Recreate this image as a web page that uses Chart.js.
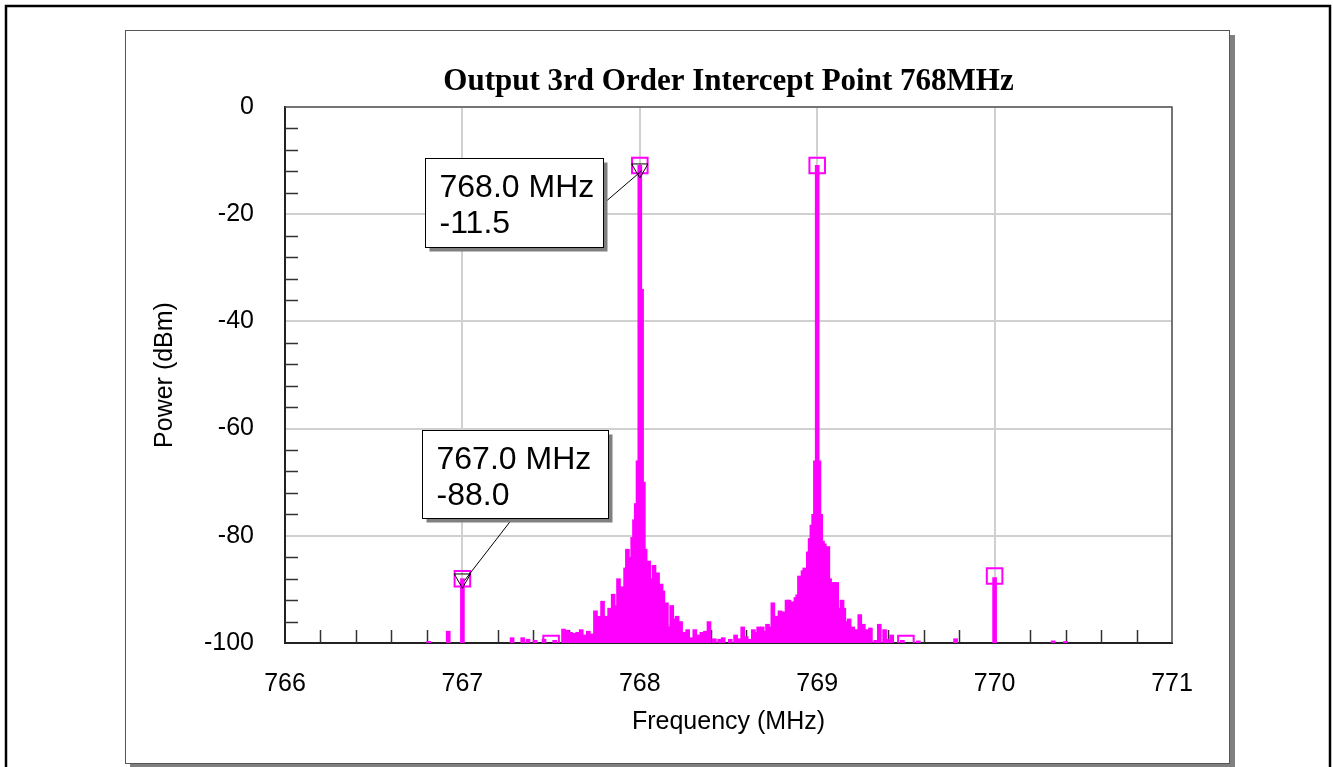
<!DOCTYPE html>
<html>
<head>
<meta charset="utf-8">
<script src="https://cdn.jsdelivr.net/npm/chart.js@4.4.1/dist/chart.umd.min.js"></script>
<style>
  html, body { margin: 0; padding: 0; background: #fff; }
</style>
</head>
<body>
<canvas id="spectrum" width="1333" height="767"></canvas>
<script>
// spectrum bins (MHz / dBm)
const spectrumFreq = [
  766.81, 766.92, 767.00, 767.28, 767.34, 767.37, 767.41, 767.46, 767.52, 767.57,
  767.59, 767.61, 767.63, 767.65, 767.67, 767.69, 767.71, 767.73, 767.75, 767.77,
  767.79, 767.81, 767.83, 767.85, 767.87, 767.88, 767.90, 767.92, 767.93, 767.95,
  767.96, 767.97, 767.98, 767.99, 768.00, 768.01, 768.02, 768.03, 768.05, 768.06,
  768.08, 768.10, 768.12, 768.13, 768.15, 768.16, 768.18, 768.20, 768.21, 768.23,
  768.25, 768.27, 768.29, 768.31, 768.33, 768.35, 768.37, 768.39, 768.42, 768.45,
  768.47, 768.51, 768.54, 768.56, 768.58, 768.60, 768.62, 768.64, 768.66, 768.67,
  768.69, 768.71, 768.72, 768.73, 768.75, 768.77, 768.79, 768.80, 768.82, 768.83,
  768.84, 768.86, 768.88, 768.89, 768.90, 768.92, 768.93, 768.95, 768.96, 768.97,
  768.98, 768.99, 769.00, 769.01, 769.02, 769.03, 769.04, 769.06, 769.07, 769.09,
  769.11, 769.12, 769.14, 769.15, 769.16, 769.18, 769.20, 769.22, 769.24, 769.26,
  769.28, 769.30, 769.33, 769.35, 769.38, 769.40, 769.42, 769.48, 769.57, 769.78,
  770.00, 770.33, 770.40
]
const spectrumPower = [
  -99.7, -97.8, -88.0, -99.0, -99.0, -99.3, -99.5, -99.3, -99.5, -97.4,
  -97.6, -98.0, -98.2, -98.0, -97.5, -98.5, -97.8, -98.3, -94.0, -95.0,
  -92.2, -95.0, -93.5, -90.9, -93.0, -88.0, -89.5, -86.0, -82.5, -84.0,
  -80.3, -77.0, -74.0, -66.0, -10.9, -34.0, -70.0, -82.5, -84.7, -88.0,
  -85.5, -86.9, -89.0, -90.3, -92.5, -97.0, -93.0, -95.5, -95.0, -96.0,
  -98.0, -97.5, -99.0, -97.5, -98.5, -98.0, -97.8, -96.0, -99.2, -99.3,
  -99.0, -99.3, -98.5, -99.2, -97.0, -98.8, -99.3, -97.5, -98.0, -97.0,
  -97.0, -97.8, -96.5, -97.0, -92.5, -95.0, -94.0, -94.2, -94.2, -92.0,
  -92.0, -92.3, -91.5, -91.0, -87.5, -86.5, -86.0, -83.0, -80.5, -78.0,
  -76.0, -66.0, -10.9, -66.0, -76.0, -81.0, -81.5, -82.0, -88.0, -88.7,
  -88.7, -93.5, -92.0, -93.5, -96.0, -95.5, -97.0, -97.5, -94.7, -96.5,
  -97.5, -97.2, -99.5, -96.5, -97.5, -99.3, -98.5, -99.5, -99.6, -99.2,
  -87.8, -99.6, -99.7
]

// square tone markers
const markerFreq = [767, 767.5, 768, 769, 769.5, 770]
const markerPower = [-88.0, -100.1, -10.9, -10.9, -100.1, -87.5]

// marker readouts (triangles + boxes)
const readoutFreq = [767.0, 768.0]
const readoutPower = [-88.0, -11.5]

const xMin = 766, xMax = 771, xStep = 1, xMinorStep = 0.2
const yMin = -100, yMax = 0, yStep = 20, yMinorStep = 4

const MAGENTA = '#ff00ff'

// where each readout box sits, relative to its marker
const readoutBoxes = [
  { dx: -40, dy: -149, w: 186, h: 88, from: 'bottom', at: 90 },
  { dx: -215, dy: -10.5, w: 178, h: 89, from: 'right', at: 45 },
]

const decor = {
  id: 'decor',
  beforeDraw(chart) {
    const ctx = chart.ctx
    ctx.save()
    ctx.fillStyle = '#fff'
    ctx.fillRect(0, 0, chart.width, chart.height)
    ctx.strokeStyle = '#000'
    ctx.lineWidth = 2.5
    ctx.strokeRect(6, 6, chart.width - 9, chart.height + 10)
    // panel + shadow
    ctx.fillStyle = '#808080'
    ctx.fillRect(1230, 35, 5, 740)
    ctx.fillRect(130, 764, 1105, 8)
    ctx.fillStyle = '#fff'
    ctx.fillRect(125.5, 30.5, 1104, 733)
    ctx.strokeStyle = '#555'
    ctx.lineWidth = 1
    ctx.strokeRect(125.5, 30.5, 1104, 733)
    ctx.restore()
  },
  beforeDatasetsDraw(chart) {
    const { ctx, chartArea: a, scales: { x, y } } = chart
    ctx.save()
    ctx.strokeStyle = '#333'
    ctx.lineWidth = 1.5
    ctx.beginPath()
    for (let v = xMin + xMinorStep; v < xMax - 1e-6; v += xMinorStep) {
      if (Math.abs(v - Math.round(v)) < 1e-6) continue
      const px = Math.round(x.getPixelForValue(v)) + 0.5
      ctx.moveTo(px, a.bottom)
      ctx.lineTo(px, a.bottom - 13)
    }
    for (let v = yMin + yMinorStep; v < yMax - 1e-6; v += yMinorStep) {
      if (Math.abs(v / yStep - Math.round(v / yStep)) < 1e-6) continue
      const py = Math.round(y.getPixelForValue(v)) + 0.5
      ctx.moveTo(a.left, py)
      ctx.lineTo(a.left + 13, py)
    }
    ctx.stroke()
    ctx.restore()
  },
  afterDatasetsDraw(chart) {
    const { ctx, chartArea: a, scales: { x, y } } = chart
    ctx.save()
    // top / right edge of the plot box
    ctx.strokeStyle = '#555'
    ctx.lineWidth = 1.5
    ctx.beginPath()
    ctx.moveTo(a.left, a.top)
    ctx.lineTo(a.right, a.top)
    ctx.lineTo(a.right, a.bottom)
    ctx.stroke()

    readoutFreq.forEach((f, i) => {
      const p = readoutPower[i]
      const b = readoutBoxes[i]
      const px = x.getPixelForValue(f)
      const py = y.getPixelForValue(p)
      const left = Math.round(px + b.dx) + 0.5
      const top = Math.round(py + b.dy) + 0.5

      // leader line
      ctx.strokeStyle = '#000'
      ctx.lineWidth = 1
      ctx.beginPath()
      if (b.from === 'bottom') ctx.moveTo(left + b.at, top + b.h)
      else ctx.moveTo(left + b.w, top + b.at)
      ctx.lineTo(px + 2, py + 2)
      ctx.stroke()

      // shadow, box, text
      ctx.fillStyle = '#808080'
      ctx.fillRect(left + 4, top + 4, b.w, b.h)
      ctx.fillStyle = '#fff'
      ctx.fillRect(left, top, b.w, b.h)
      ctx.strokeStyle = '#000'
      ctx.strokeRect(left, top, b.w, b.h)
      ctx.fillStyle = '#000'
      ctx.font = '32px "Liberation Sans", Arial, sans-serif'
      ctx.textBaseline = 'alphabetic'
      ctx.textAlign = 'left'
      ctx.fillText(f.toFixed(1) + ' MHz', left + 14, top + 38)
      ctx.fillText(p.toFixed(1), left + 14, top + 74)
    })
    ctx.restore()
  }
}

Chart.defaults.font.family = '"Liberation Sans", Arial, sans-serif'
Chart.defaults.color = '#000'

const chartCtx = document.getElementById('spectrum').getContext('2d')

new Chart(chartCtx, {
  type: 'bar',
  data: {
    datasets: [
      {
        type: 'line',
        label: 'markers',
        data: markerFreq.map((f, i) => ({ x: f, y: markerPower[i] })),
        showLine: false,
        pointStyle: 'rect',
        pointRadius: 11,
        pointBorderWidth: 2,
        pointBorderColor: MAGENTA,
        pointBackgroundColor: 'rgba(0,0,0,0)',
        clip: { left: 20, right: 20, top: 20, bottom: 0 },
        order: 1,
      },
      {
        type: 'line',
        label: 'readouts',
        data: readoutFreq.map((f, i) => ({ x: f, y: readoutPower[i] })),
        showLine: false,
        pointStyle: 'triangle',
        pointRotation: 180,
        pointRadius: 9.4,
        pointBorderWidth: 1,
        pointBorderColor: '#000',
        pointBackgroundColor: 'rgba(0,0,0,0)',
        clip: false,
        order: 0,
      },
      {
        label: 'spectrum',
        data: spectrumFreq.map((f, i) => ({ x: f, y: [yMin, spectrumPower[i]] })),
        backgroundColor: MAGENTA,
        borderWidth: 0,
        barThickness: 4,
        grouped: false,
        order: 2,
      },
    ]
  },
  options: {
    responsive: false,
    animation: false,
    layout: {
      padding: { left: 0, right: 161, top: 0, bottom: 0 }
    },
    plugins: {
      legend: { display: false },
      tooltip: { enabled: false },
      title: {
        display: true,
        fullSize: false,
        text: 'Output 3rd Order Intercept Point 768MHz',
        color: '#000',
        font: { family: '"Liberation Serif", "Times New Roman", serif', size: 31, weight: 'bold' },
        padding: { top: 63.4, bottom: 6.4 },
      },
    },
    scales: {
      x: {
        type: 'linear',
        offset: false,
        min: xMin,
        max: xMax,
        grid: { offset: false, color: '#d0d0d0', lineWidth: 2, drawTicks: false },
        border: { color: '#222', width: 2 },
        ticks: { stepSize: xStep, padding: 26, font: { size: 25 }, color: '#000' },
        title: { display: true, text: 'Frequency (MHz)', font: { size: 25 }, color: '#000', padding: { top: 0, bottom: 30 } },
        afterFit: (scale) => { scale.height = 124 },
      },
      y: {
        min: yMin,
        max: yMax,
        beginAtZero: false,
        grid: { color: '#d0d0d0', lineWidth: 2, drawTicks: false },
        border: { color: '#222', width: 2 },
        ticks: { stepSize: yStep, padding: 31, font: { size: 25 }, color: '#000' },
        title: { display: true, text: 'Power (dBm)', font: { size: 25 }, color: '#000', padding: { top: 150, bottom: 0 } },
        afterFit: (scale) => { scale.width = 285 },
      },
    }
  },
  plugins: [decor]
})
</script>
</body>
</html>
